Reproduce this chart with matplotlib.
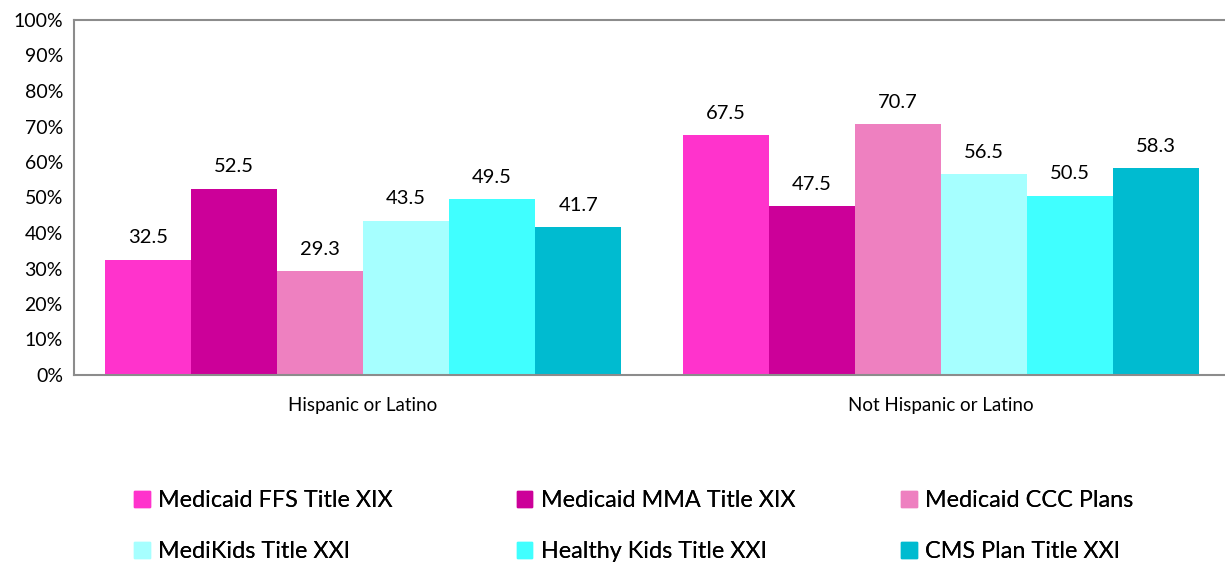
import numpy as np
import matplotlib
matplotlib.use("Agg")
from matplotlib import pyplot as plt
from matplotlib.patches import Patch

plt.rcParams['font.family'] = ['Lato', 'DejaVu Sans']

categories = ['Hispanic or Latino', 'Not Hispanic or Latino']
series = ['Medicaid FFS Title XIX', 'Medicaid MMA Title XIX', 'Medicaid CCC Plans',
          'MediKids Title XXI', 'Healthy Kids Title XXI', 'CMS Plan Title XXI']
ffs = [32.5, 67.5]
mma = [52.5, 47.5]
ccc = [29.3, 70.7]
medikids = [43.5, 56.5]
healthy = [49.5, 50.5]
cms = [41.7, 58.3]
values = [ffs, mma, ccc, medikids, healthy, cms]
colors = ['#FF33CC', '#CC0099', '#EE80C0', '#A6FFFF', '#40FFFF', '#00BBD0']

fig = plt.figure(figsize=(12.25, 5.64), dpi=100)
ax = fig.add_axes([74/1225, 1-375/564, 1156/1225, 355/564])

x = np.arange(len(categories))
w = 0.149
for i, (name, vals, c) in enumerate(zip(series, values, colors)):
    pos = x + (i - 2.5) * w
    ax.bar(pos, vals, width=w, color=c, label=name)
    for p, v in zip(pos, vals):
        ax.text(p, v + 4.6, f"{v:.1f}", ha='center', va='baseline', fontsize=14.5)

ax.set_xlim(-0.5, 1.5)
ax.set_ylim(0, 100)
ax.set_yticks(np.arange(0, 101, 10))
ax.set_yticklabels([f"{t}%" for t in range(0, 101, 10)], fontsize=14)
ax.set_xticks(x)
ax.set_xticklabels(categories, fontsize=13.5)
ax.tick_params(axis='y', length=0, pad=8)
ax.tick_params(axis='x', length=0, pad=16)
for s in ['left', 'top', 'bottom']:
    ax.spines[s].set_color('#8c8c8c')
    ax.spines[s].set_linewidth(1.5)
ax.spines['right'].set_visible(False)

# three legend columns, two rows each (row-major like the original)
col_x = [125, 508, 892]
for k in range(3):
    hs = [Patch(color=colors[k], label=series[k]),
          Patch(color=colors[k + 3], label=series[k + 3])]
    leg = fig.legend(handles=hs, loc='upper left', bbox_to_anchor=(col_x[k]/1225, 1-481/564),
                     frameon=False, fontsize=16.8, handlelength=0.65, handleheight=0.65,
                     handletextpad=0.35, labelspacing=1.28, borderaxespad=0)
    fig.add_artist(leg)

fig.savefig('out.png', dpi=100)
